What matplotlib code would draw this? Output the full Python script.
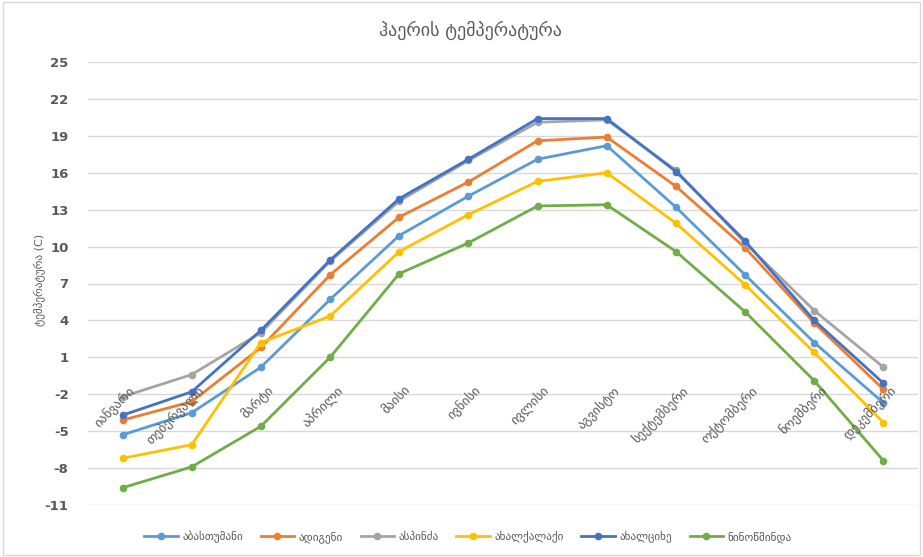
import matplotlib
matplotlib.use("Agg")
import matplotlib.pyplot as plt
from matplotlib.patches import Rectangle

plt.rcParams['font.family'] = ['DejaVu Sans']

title = "ჰაერის ტემპერატურა"
ylabel = "ტემპერატურა (C)"
months = ["იანვარი", "თებერვალი", "მარტი", "აპრილი", "მაისი", "ივნისი",
          "ივლისი", "აგვისტო", "სექტემბერი", "ოქტომბერი", "ნოემბერი", "დეკემბერი"]

abastumani = [-5.3, -3.5, 0.2, 5.7, 10.9, 14.1, 17.1, 18.2, 13.2, 7.7, 2.2, -2.7]
adigeni = [-4.1, -2.6, 1.8, 7.7, 12.4, 15.25, 18.6, 18.9, 14.9, 9.9, 3.8, -1.6]
aspindza = [-2.2, -0.4, 3.0, 8.8, 13.7, 17.0, 20.1, 20.3, 16.2, 10.3, 4.8, 0.2]
akhalkalaki = [-7.2, -6.1, 2.2, 4.35, 9.6, 12.6, 15.3, 16.0, 11.9, 6.9, 1.4, -4.3]
akhaltsikhe = [-3.7, -1.8, 3.2, 8.9, 13.9, 17.1, 20.4, 20.4, 16.1, 10.45, 4.0, -1.1]
ninotsminda = [-9.6, -7.9, -4.6, 1.0, 7.8, 10.3, 13.3, 13.4, 9.6, 4.7, -0.9, -7.4]

series_names = ["აბასთუმანი", "ადიგენი", "ასპინძა", "ახალქალაქი", "ახალციხე", "ნინოწმინდა"]
series_values = [abastumani, adigeni, aspindza, akhalkalaki, akhaltsikhe, ninotsminda]
colors = ["#5B9BD5", "#ED7D31", "#A5A5A5", "#FFC000", "#4472C4", "#70AD47"]

yticks = list(range(-11, 26, 3))

fig = plt.figure(figsize=(9.23, 5.57), dpi=100)
fig.patches.append(Rectangle((0.003, 0.003), 0.994, 0.994, transform=fig.transFigure,
                             fill=False, edgecolor="#d9d9d9", linewidth=1))
ax = fig.add_axes([88/923, 1 - 505/557, (918-88)/923, (505-62)/557])

x = list(range(len(months)))
handles = []
for name, vals, c in zip(series_names, series_values, colors):
    h, = ax.plot(x, vals, color=c, linewidth=2, marker='o', markersize=4.5,
                 markeredgecolor=c, markerfacecolor=c, label=name, zorder=3)
    handles.append(h)

ax.set_ylim(-11, 25)
ax.set_xlim(-0.5, 11.5)
ax.set_yticks(yticks)
ax.set_yticklabels([str(t) for t in yticks], fontsize=9.5, color="#595959", fontweight='bold')
ax.yaxis.grid(True, color="#d9d9d9", linewidth=1)
ax.set_axisbelow(True)
ax.tick_params(axis='y', length=0, pad=14)
ax.set_xticks([])
for s in ax.spines.values():
    s.set_visible(False)

for i, m in enumerate(months):
    ax.annotate(m, xy=(i, 0), xytext=(4, -10), textcoords='offset points',
                rotation=45, ha='right', va='top', rotation_mode='anchor',
                fontsize=9.5, color="#595959")

fig.text(470/923, 1 - 30/557, title, ha='center', va='center', fontsize=13, color="#595959")
fig.text(40/923, 1 - 280/557, ylabel, ha='center', va='center', rotation=90,
         fontsize=8, color="#595959")

fig.legend(handles=handles, loc='center', bbox_to_anchor=(468/923, 1 - 537/557), ncol=6,
           frameon=False, fontsize=8, labelcolor="#595959", handlelength=3,
           columnspacing=1.6, handletextpad=0.4)

fig.savefig("out.png", dpi=100)
